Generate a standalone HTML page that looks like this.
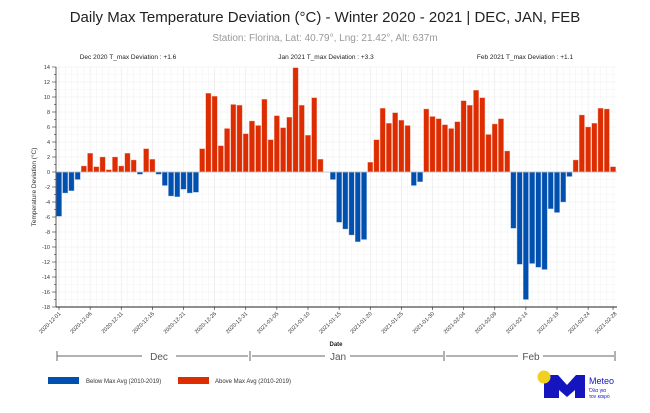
<!DOCTYPE html>
<html><head><meta charset="utf-8"><style>
body{margin:0;background:#fff;font-family:"Liberation Sans",sans-serif}
</style></head><body>
<svg id="s" width="650" height="408" xmlns="http://www.w3.org/2000/svg" font-family="Liberation Sans, sans-serif">
<rect width="650" height="408" fill="#fff"/>
<text x="325" y="22" text-anchor="middle" font-size="15" fill="#222">Daily Max Temperature Deviation (°C) - Winter 2020 - 2021 | DEC, JAN, FEB</text>
<text x="325" y="41" text-anchor="middle" font-size="10" fill="#999">Station: Florina, Lat: 40.79°, Lng: 21.42°, Alt: 637m</text>
<text x="128" y="59" text-anchor="middle" font-size="6.5" fill="#222">Dec 2020 T_max Deviation : +1.6</text>
<text x="326" y="59" text-anchor="middle" font-size="6.5" fill="#222">Jan 2021 T_max Deviation : +3.3</text>
<text x="525" y="59" text-anchor="middle" font-size="6.5" fill="#222">Feb 2021 T_max Deviation : +1.1</text>
<g id="g"></g>
<text transform="translate(36,187) rotate(-90)" text-anchor="middle" font-size="6.5" fill="#333">Temperature Deviation (°C)</text>
<text x="336" y="346" text-anchor="middle" font-size="6" font-weight="bold" fill="#222">Date</text>
<g stroke="#666" stroke-width="1">
<line x1="57" y1="356" x2="142" y2="356"/><line x1="176" y1="356" x2="248" y2="356"/>
<line x1="57" y1="351" x2="57" y2="361"/><line x1="250" y1="351" x2="250" y2="361"/>
<line x1="252" y1="356" x2="325" y2="356"/><line x1="350" y1="356" x2="443" y2="356"/>
<line x1="444" y1="351" x2="444" y2="361"/><line x1="446" y1="356" x2="518" y2="356"/>
<line x1="543" y1="356" x2="614" y2="356"/><line x1="615" y1="351" x2="615" y2="361"/>
</g>
<text x="159" y="360" text-anchor="middle" font-size="10" fill="#555">Dec</text>
<text x="338" y="360" text-anchor="middle" font-size="10" fill="#555">Jan</text>
<text x="531" y="360" text-anchor="middle" font-size="10" fill="#555">Feb</text>
<rect x="48" y="377" width="31" height="7" fill="#0050b0"/>
<text x="86" y="383" font-size="6" fill="#333">Below Max Avg (2010-2019)</text>
<rect x="178" y="377" width="31" height="7" fill="#dd2c00"/>
<text x="215" y="383" font-size="6" fill="#333">Above Max Avg (2010-2019)</text>
<g>
<rect x="544" y="375" width="10" height="23" fill="#1515c0"/>
<polygon points="544,375 558,375 567,385 576,375 585,375 585,398 575,398 575,390 567,397 559,390 559,398 544,398" fill="#1515c0"/>
<circle cx="544" cy="377" r="6.5" fill="#f0d020"/>
<text x="589" y="384" font-size="9" fill="#1515c0">Meteo</text>
<text x="589" y="392" font-size="5" fill="#1515c0">Όλα για</text>
<text x="589" y="398" font-size="5" fill="#1515c0">τον καιρό</text>
</g>
</svg>
<script>
var v=[-5.9,-2.8,-2.5,-1.0,0.8,2.5,0.7,2.0,0.3,2.0,0.8,2.5,1.6,-0.3,3.1,1.7,-0.3,-1.8,-3.2,-3.3,-2.3,-2.8,-2.7,3.1,10.5,10.1,3.5,5.8,9.0,8.9,5.1,
6.8,6.2,9.7,4.3,7.5,5.9,7.3,13.9,8.9,4.9,9.9,1.7,0,-1.0,-6.7,-7.6,-8.4,-9.3,-9.0,1.3,4.3,8.5,6.5,7.9,6.9,6.2,-1.8,-1.3,8.4,7.4,7.1,6.3,5.8,6.7,9.5,8.9,10.9,9.9,5.0,6.4,7.1,2.8,-7.5,-12.3,-17.0,-12.2,-12.7,-13.0,-4.9,-5.4,-4.0,-0.6,1.6,7.6,6.0,6.5,8.5,8.4,0.7];
var ns="http://www.w3.org/2000/svg",g=document.getElementById('g'),h='';
var L=56,R=617,T=67,B=307,Y=function(d){return 172-d*7.5},X=function(i){return 59+6.225*i};
for(var i=0;i<90;i++){h+='<line x1="'+X(i)+'" y1="'+T+'" x2="'+X(i)+'" y2="'+B+'" stroke="'+(i%5==0?'#e8e8e8':'#f3f3f3')+'" stroke-width="0.6"/>';}
for(var d=-18;d<=14;d++){var y=Y(d);h+='<line x1="'+L+'" y1="'+y+'" x2="'+R+'" y2="'+y+'" stroke="'+(d%2==0?'#ebebeb':'#f5f5f5')+'" stroke-width="0.6"/>';
h+='<line x1="'+(d%2==0?52:54)+'" y1="'+y+'" x2="'+L+'" y2="'+y+'" stroke="#333" stroke-width="0.6"/>';
if(d%2==0)h+='<text x="50" y="'+(y+2)+'" text-anchor="end" font-size="5.5" fill="#333">'+d+'</text>';}
for(var i=0;i<90;i++){var a=v[i];if(!a)continue;var y0=Y(Math.max(a,0)),hh=Math.abs(a)*7.5;
h+='<rect x="'+(X(i)-2.6)+'" y="'+y0+'" width="5.2" height="'+hh+'" fill="'+(a>0?'#dd2c00':'#0050b0')+'" stroke="'+(a>0?'#f2a090':'#8fb0e0')+'" stroke-width="0.4"/>';}
h+='<line x1="'+L+'" y1="172" x2="'+R+'" y2="172" stroke="#bbb" stroke-width="0.8"/>';
h+='<line x1="'+L+'" y1="'+T+'" x2="'+L+'" y2="'+B+'" stroke="#333" stroke-width="0.8"/>';
h+='<line x1="'+L+'" y1="'+B+'" x2="'+R+'" y2="'+B+'" stroke="#222" stroke-width="1"/>';
var lab=['2020-12-01','2020-12-06','2020-12-11','2020-12-16','2020-12-21','2020-12-26','2020-12-31','2021-01-05','2021-01-10','2021-01-15','2021-01-20','2021-01-25','2021-01-30','2021-02-04','2021-02-09','2021-02-14','2021-02-19','2021-02-24'];
for(var k=0;k<lab.length;k++){var x=X(k*5);h+='<line x1="'+x+'" y1="'+B+'" x2="'+x+'" y2="'+(B+3)+'" stroke="#222" stroke-width="0.6"/>';
h+='<text transform="translate('+(x+2)+','+(B+7)+') rotate(-45)" text-anchor="end" font-size="5.5" fill="#333">'+lab[k]+'</text>';}
var x=X(89);h+='<line x1="'+x+'" y1="'+B+'" x2="'+x+'" y2="'+(B+3)+'" stroke="#222" stroke-width="0.6"/><text transform="translate('+(x+4)+','+(B+7)+') rotate(-45)" text-anchor="end" font-size="5.5" fill="#333">2021-02-28</text>';
g.innerHTML=h;
</script>
</body></html>
